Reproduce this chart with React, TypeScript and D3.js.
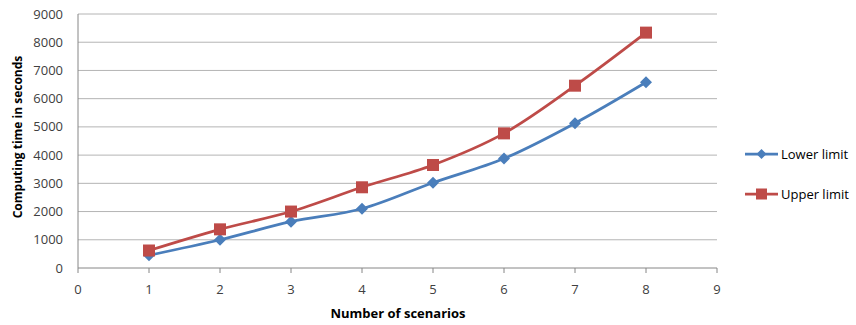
import React from "react";
import * as d3 from "d3";

const scenarios = [1, 2, 3, 4, 5, 6, 7, 8];
const lowerLimit = [450, 1000, 1640, 2100, 3020, 3880, 5130, 6580];
const upperLimit = [620, 1370, 2000, 2860, 3650, 4770, 6460, 8340];
const xTicks = [0, 1, 2, 3, 4, 5, 6, 7, 8, 9];
const yTicks = [0, 1000, 2000, 3000, 4000, 5000, 6000, 7000, 8000, 9000];
const seriesNames = ["Lower limit", "Upper limit"];

const W = 856, H = 325;
const font = "'Open Sans', 'Liberation Sans', sans-serif";

export default function App() {
  const x = d3.scaleLinear().domain([0, 9]).range([78, 717]);
  const y = d3.scaleLinear().domain([0, 9000]).range([268, 14]);
  const line = d3.line<number>()
    .x((_, i) => x(scenarios[i]))
    .y((d) => y(d))
    .curve(d3.curveCatmullRom.alpha(0.5));
  const blue = "#4A7EBB", red = "#BE4B48";
  const diamond = (cx: number, cy: number, r: number) =>
    `M${cx},${cy - r}L${cx + r},${cy}L${cx},${cy + r}L${cx - r},${cy}Z`;
  return (
    <svg width={W} height={H} style={{ position: "absolute", left: 0, top: 0, background: "#fff" }} fontFamily={font}>
      {yTicks.map((t) => (
        <g key={t}>
          {t > 0 && <line x1={x(0)} x2={x(9)} y1={y(t)} y2={y(t)} stroke="#b4b4b4" strokeWidth={1} />}
          <text x={63} y={y(t)} dy="0.35em" textAnchor="end" fontSize={13} fill="#404040">{t}</text>
        </g>
      ))}
      <line x1={x(0)} x2={x(0)} y1={y(9000)} y2={y(0)} stroke="#868686" />
      <line x1={x(0)} x2={x(9)} y1={y(0)} y2={y(0)} stroke="#868686" />
      {xTicks.map((t) => (
        <g key={t}>
          <line x1={x(t)} x2={x(t)} y1={y(0)} y2={y(0) + 5} stroke="#868686" />
          <text x={x(t)} y={289} dy="0.35em" textAnchor="middle" fontSize={13} fill="#404040">{t}</text>
        </g>
      ))}
      <path d={line(lowerLimit) || ""} fill="none" stroke={blue} strokeWidth={2.75} />
      <path d={line(upperLimit) || ""} fill="none" stroke={red} strokeWidth={2.75} />
      {lowerLimit.map((v, i) => (
        <path key={i} d={diamond(x(scenarios[i]), y(v), 6)} fill={blue} />
      ))}
      {upperLimit.map((v, i) => (
        <rect key={i} x={x(scenarios[i]) - 6} y={y(v) - 6} width={12} height={12} fill={red} />
      ))}
      <text x={398} y={313} dy="0.35em" textAnchor="middle" fontSize={13} fontWeight="bold" fill="#000">Number of scenarios</text>
      <text transform={`translate(18,137) rotate(-90)`} dy="0.35em" textAnchor="middle" fontSize={12} fontWeight="bold" fill="#000">Computing time in seconds</text>
      <g>
        <line x1={745} x2={778} y1={154} y2={154} stroke={blue} strokeWidth={2.75} />
        <path d={diamond(761.5, 154, 5)} fill={blue} />
        <text x={781} y={154} dy="0.35em" fontSize={13} fill="#000">{seriesNames[0]}</text>
        <line x1={745} x2={778} y1={194} y2={194} stroke={red} strokeWidth={2.75} />
        <rect x={756} y={188.5} width={11} height={11} fill={red} />
        <text x={781} y={194} dy="0.35em" fontSize={13} fill="#000">{seriesNames[1]}</text>
      </g>
    </svg>
  );
}
